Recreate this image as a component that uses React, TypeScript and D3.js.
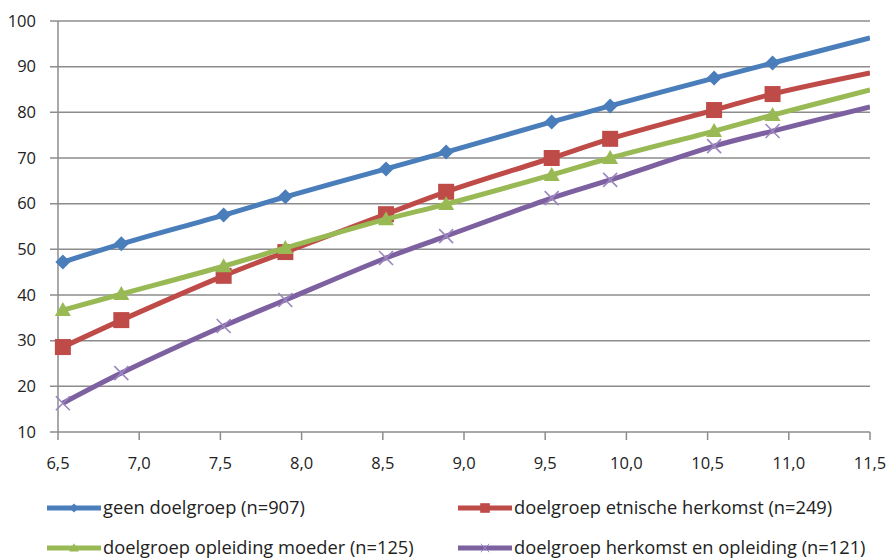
import React from "react";
import * as d3 from "d3";

const xValues = [6.53, 6.89, 7.52, 7.9, 8.52, 8.89, 9.54, 9.9, 10.54, 10.9, 11.5];
const geen = [47.2, 51.2, 57.5, 61.5, 67.6, 71.3, 77.9, 81.4, 87.5, 90.8, 96.3];
const etnisch = [28.6, 34.5, 44.2, 49.4, 57.7, 62.6, 70.0, 74.2, 80.5, 84.0, 88.6];
const opleiding = [36.7, 40.2, 46.3, 50.3, 56.6, 59.9, 66.3, 70.0, 75.9, 79.4, 84.9];
const herkomst = [16.3, 22.9, 33.2, 38.9, 48.1, 52.9, 61.2, 65.2, 72.6, 75.9, 81.2];
const markerCount = 10;

const xTicks = [6.5, 7.0, 7.5, 8.0, 8.5, 9.0, 9.5, 10.0, 10.5, 11.0, 11.5];
const yTicks = [10, 20, 30, 40, 50, 60, 70, 80, 90, 100];

const seriesNames = [
  "geen doelgroep (n=907)",
  "doelgroep etnische herkomst (n=249)",
  "doelgroep opleiding moeder (n=125)",
  "doelgroep herkomst en opleiding (n=121)",
];
const seriesColors = ["#4A7EBB", "#BE4B48", "#98B954", "#7D60A0"];
const seriesMarkers = ["diamond", "square", "triangle", "x"];
const seriesData = [geen, etnisch, opleiding, herkomst];

const W = 889;
const H = 559;
const left = 58;
const right = 870;
const top = 21;
const bottom = 432;
const FONT = "'Open Sans', sans-serif";

function Marker({ type, x, y, color }: { type: string; x: number; y: number; color: string }) {
  if (type === "diamond") {
    const s = 7.5;
    return <path d={`M${x},${y - s}L${x + s},${y}L${x},${y + s}L${x - s},${y}Z`} fill={color} />;
  }
  if (type === "square") {
    const s = 8;
    return <rect x={x - s} y={y - s} width={2 * s} height={2 * s} fill={color} />;
  }
  if (type === "triangle") {
    const s = 8;
    return <path d={`M${x},${y - s}L${x + s},${y + s * 0.75}L${x - s},${y + s * 0.75}Z`} fill={color} />;
  }
  const s = 7;
  return (
    <path
      d={`M${x - s},${y - s}L${x + s},${y + s}M${x - s},${y + s}L${x + s},${y - s}`}
      stroke="#9B86C0"
      strokeWidth={1.6}
      fill="none"
    />
  );
}

export default function App() {
  const x = d3.scaleLinear().domain([6.5, 11.5]).range([left, right]);
  const y = d3.scaleLinear().domain([10, 100]).range([bottom, top]);
  const line = d3
    .line<number>()
    .x((_, i) => x(xValues[i]))
    .y((d) => y(d))
    .curve(d3.curveCatmullRom.alpha(0.5));

  const legendPos = [
    { lx: 47, ly: 508 },
    { lx: 458, ly: 508 },
    { lx: 47, ly: 548 },
    { lx: 458, ly: 548 },
  ];

  return (
    <svg width={W} height={H} style={{ position: "absolute", left: 0, top: 0, background: "#fff" }}>
      <defs>
        <clipPath id="plot">
          <rect x={left - 10} y={top - 10} width={right - left + 10} height={bottom - top + 20} />
        </clipPath>
      </defs>
      {yTicks.map((t) => (
        <g key={t}>
          <line x1={left - 8} x2={right} y1={y(t)} y2={y(t)} stroke="#8C8C8C" strokeWidth={1.5} />
          <text x={36} y={y(t) + 5.5} textAnchor="end" fontFamily={FONT} fontSize={16.5} fill="#222">
            {t}
          </text>
        </g>
      ))}
      <line x1={left} x2={left} y1={top} y2={bottom} stroke="#8C8C8C" strokeWidth={1.5} />
      {xTicks.map((t) => (
        <g key={t}>
          <line x1={x(t)} x2={x(t)} y1={bottom} y2={bottom + 8} stroke="#8C8C8C" strokeWidth={1.5} />
          <text x={x(t)} y={bottom + 37} textAnchor="middle" fontFamily={FONT} fontSize={16.5} fill="#222">
            {t.toFixed(1).replace(".", ",")}
          </text>
        </g>
      ))}
      <g clipPath="url(#plot)">
        {seriesData.map((data, si) => (
          <g key={si}>
            <path d={line(data) || ""} fill="none" stroke={seriesColors[si]} strokeWidth={5} strokeLinejoin="round" />
            {data.slice(0, markerCount).map((v, i) => (
              <Marker key={i} type={seriesMarkers[si]} x={x(xValues[i])} y={y(v)} color={seriesColors[si]} />
            ))}
          </g>
        ))}
      </g>
      {seriesNames.map((name, si) => {
        const { lx, ly } = legendPos[si];
        return (
          <g key={name}>
            <line x1={lx} x2={lx + 54} y1={ly} y2={ly} stroke={seriesColors[si]} strokeWidth={5} />
            <g transform={`translate(${lx + 27},${ly}) scale(0.6) translate(${-lx - 27},${-ly})`}>
              <Marker type={seriesMarkers[si]} x={lx + 27} y={ly} color={seriesColors[si]} />
            </g>
            <text x={lx + 56} y={ly + 6} fontFamily={FONT} fontSize={18.3} fill="#222">
              {name}
            </text>
          </g>
        );
      })}
    </svg>
  );
}
